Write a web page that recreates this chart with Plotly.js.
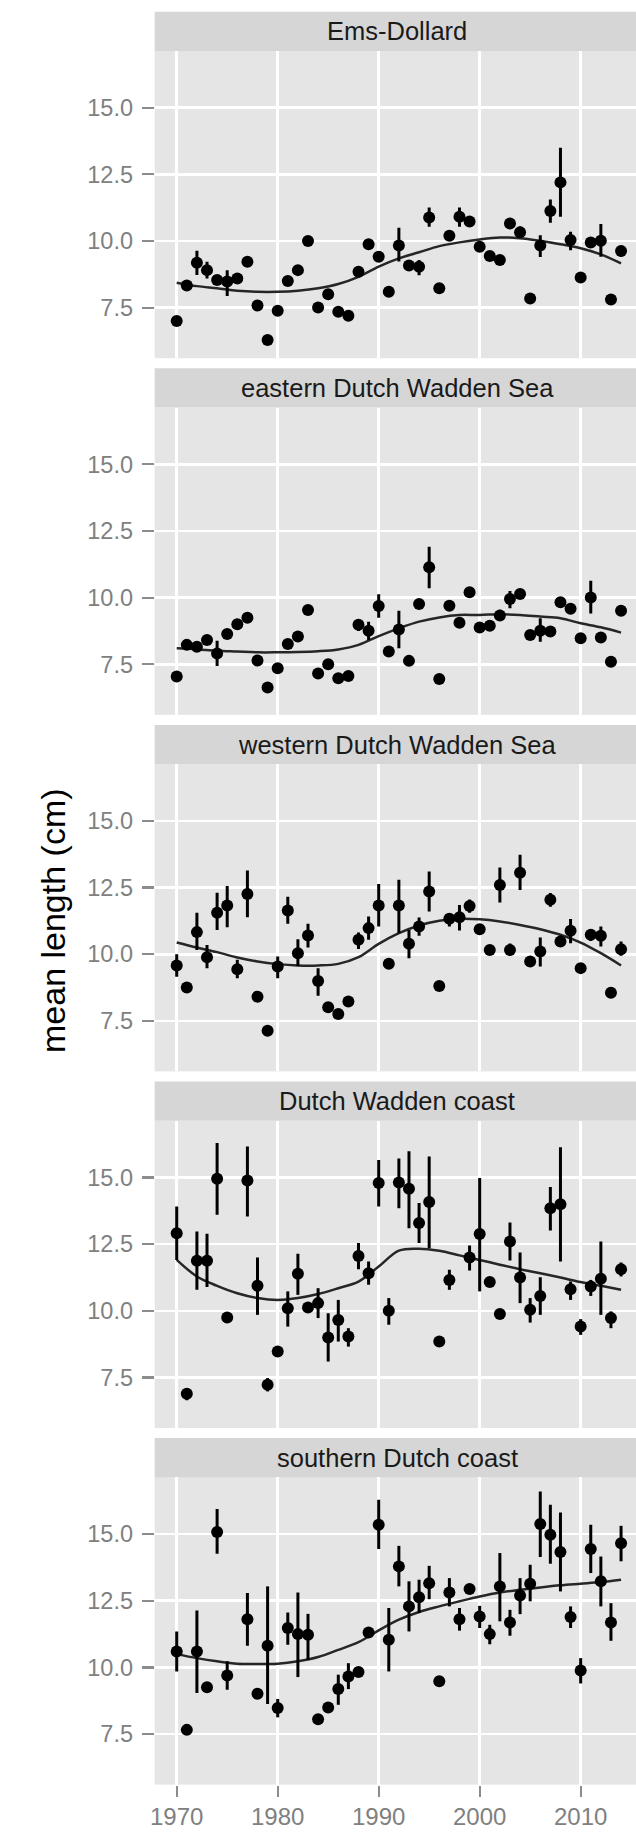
<!DOCTYPE html>
<html>
<head>
<meta charset="utf-8">
<script src="https://cdn.plot.ly/plotly-3.0.1.min.js"></script>
<style>
  html, body { margin: 0; padding: 0; background: #ffffff; }
  #chart { width: 636px; height: 1842px; }
</style>
</head>
<body>
<div id="chart"></div>
<script>
// Mean length (cm) per year with ranges, and a smoothed trend, for five areas.
const regions = [
  "Ems-Dollard",
  "eastern Dutch Wadden Sea",
  "western Dutch Wadden Sea",
  "Dutch Wadden coast",
  "southern Dutch coast"
];

const yearsFull = [1970,1971,1972,1973,1974,1975,1976,1977,1978,1979,
                   1980,1981,1982,1983,1984,1985,1986,1987,1988,1989,
                   1990,1991,1992,1993,1994,1995,1996,1997,1998,1999,
                   2000,2001,2002,2003,2004,2005,2006,2007,2008,2009,
                   2010,2011,2012,2013,2014];

const yearsCoastNorth = [1970,1971,1972,1973,1974,1975,1977,1978,1979,
                         1980,1981,1982,1983,1984,1985,1986,1987,1988,1989,
                         1990,1991,1992,1993,1994,1995,1996,1997,1999,
                         2000,2001,2002,2003,2004,2005,2006,2007,2008,2009,
                         2010,2011,2012,2013,2014];

const yearsCoastSouth = [1970,1971,1972,1973,1974,1975,1977,1978,1979,
                         1980,1981,1982,1983,1984,1985,1986,1987,1988,1989,
                         1990,1991,1992,1993,1994,1995,1996,1997,1998,1999,
                         2000,2001,2002,2003,2004,2005,2006,2007,2008,2009,
                         2010,2011,2012,2013,2014];

// Ems-Dollard
const mean1 = [7.0, 8.33, 9.19, 8.91, 8.54, 8.48, 8.6, 9.22, 7.58, 6.29,
               7.39, 8.5, 8.91, 10.0, 7.51, 8.01, 7.35, 7.2, 8.85, 9.88,
               9.41, 8.1, 9.83, 9.08, 9.04, 10.88, 8.23, 10.2, 10.91, 10.73,
               9.79, 9.44, 9.29, 10.66, 10.33, 7.85, 9.83, 11.13, 12.2, 10.04,
               8.63, 9.95, 10.01, 7.81, 9.63];
const hi1 = [7.15, 8.48, 9.64, 9.22, 8.69, 8.91, 8.75, 9.37, 7.73, 6.44,
             7.54, 8.65, 9.06, 10.15, 7.66, 8.16, 7.5, 7.35, 9.05, 10.05,
             9.6, 8.25, 10.5, 9.23, 9.29, 11.26, 8.4, 10.35, 11.26, 10.88,
             9.94, 9.59, 9.44, 10.85, 10.55, 8.0, 10.22, 11.56, 13.5, 10.35,
             8.78, 10.1, 10.64, 7.96, 9.82];
const lo1 = [6.85, 8.18, 8.73, 8.6, 8.39, 7.94, 8.45, 9.07, 7.43, 6.14,
             7.24, 8.35, 8.76, 9.85, 7.36, 7.86, 7.2, 7.05, 8.65, 9.7,
             9.25, 7.95, 9.23, 8.93, 8.72, 10.54, 8.05, 10.05, 10.54, 10.58,
             9.64, 9.29, 9.14, 10.47, 10.12, 7.7, 9.4, 10.69, 10.91, 9.66,
             8.48, 9.8, 9.41, 7.66, 9.42];

// eastern Dutch Wadden Sea
const mean2 = [7.04, 8.23, 8.16, 8.41, 7.91, 8.64, 9.0, 9.25, 7.64, 6.63,
               7.35, 8.26, 8.54, 9.54, 7.16, 7.5, 6.98, 7.06, 8.98, 8.76,
               9.69, 7.98, 8.81, 7.63, 9.76, 11.14, 6.95, 9.7, 9.06, 10.2,
               8.88, 8.95, 9.33, 9.95, 10.14, 8.6, 8.76, 8.73, 9.83, 9.58,
               8.48, 10.01, 8.51, 7.6, 9.51];
const hi2 = [7.19, 8.38, 8.31, 8.56, 8.38, 8.79, 9.15, 9.4, 7.79, 6.78,
             7.5, 8.45, 8.69, 9.69, 7.31, 7.65, 7.13, 7.21, 9.2, 9.1,
             10.13, 8.13, 9.51, 7.78, 9.91, 11.91, 7.1, 9.85, 9.21, 10.35,
             9.03, 9.1, 9.55, 10.25, 10.32, 8.75, 9.23, 8.88, 9.98, 9.73,
             8.63, 10.63, 8.66, 7.75, 9.66];
const lo2 = [6.89, 8.08, 8.01, 8.26, 7.44, 8.49, 8.85, 9.1, 7.49, 6.48,
             7.2, 8.1, 8.39, 9.39, 7.01, 7.35, 6.83, 6.91, 8.75, 8.41,
             9.25, 7.83, 8.1, 7.48, 9.61, 10.35, 6.8, 9.55, 8.91, 10.05,
             8.73, 8.8, 9.15, 9.6, 9.95, 8.45, 8.35, 8.58, 9.68, 9.43,
             8.33, 9.41, 8.36, 7.45, 9.36];

// western Dutch Wadden Sea
const mean3 = [9.58, 8.75, 10.83, 9.89, 11.56, 11.83, 9.44, 12.26, 8.41, 7.13,
               9.54, 11.64, 10.04, 10.7, 9.0, 8.01, 7.76, 8.23, 10.54, 10.98,
               11.83, 9.64, 11.83, 10.39, 11.04, 12.35, 8.81, 11.33, 11.39, 11.81,
               10.94, 10.16, 12.6, 10.16, 13.06, 9.73, 10.1, 12.04, 10.48, 10.88,
               9.48, 10.73, 10.69, 8.56, 10.19];
const hi3 = [10.0, 8.9, 11.56, 10.35, 12.31, 12.56, 9.79, 13.14, 8.56, 7.28,
             9.92, 12.16, 10.56, 11.14, 9.48, 8.16, 7.91, 8.38, 10.82, 11.42,
             12.63, 9.79, 12.79, 10.91, 11.38, 13.1, 8.96, 11.55, 11.85, 12.05,
             11.09, 10.31, 13.25, 10.4, 13.73, 9.88, 10.63, 12.3, 10.7, 11.32,
             9.63, 10.95, 11.04, 8.71, 10.48];
const lo3 = [9.16, 8.6, 10.16, 9.48, 10.91, 11.01, 9.1, 11.39, 8.26, 6.98,
             9.1, 11.14, 9.56, 10.25, 8.44, 7.86, 7.61, 8.08, 10.2, 10.54,
             11.04, 9.49, 10.79, 9.85, 10.69, 11.6, 8.66, 11.04, 10.89, 11.56,
             10.79, 10.01, 11.94, 9.95, 12.41, 9.58, 9.54, 11.78, 10.3, 10.41,
             9.33, 10.5, 10.29, 8.41, 9.94];

// Dutch Wadden coast
const mean4 = [12.91, 6.89, 11.88, 11.88, 14.95, 9.75,
               14.89, 10.94, 7.23, 8.48, 10.1, 11.39, 10.13, 10.29, 9.0, 9.66, 9.04, 12.06, 11.41,
               14.79, 10.0, 14.81, 14.58, 13.29, 14.08, 8.85, 11.16,
               12.0, 12.88, 11.08, 9.88, 12.6, 11.25, 10.04, 10.56, 13.85, 14.0, 10.81,
               9.41, 10.91, 11.2, 9.73, 11.56];
const hi4 = [13.91, 7.1, 12.98, 12.89, 16.29, 9.9,
             16.16, 12.0, 7.48, 8.63, 10.73, 12.14, 10.28, 10.85, 9.91, 10.41, 9.35, 12.54, 11.85,
             15.66, 10.48, 15.71, 15.98, 14.04, 15.79, 9.0, 11.54,
             12.45, 14.98, 11.23, 10.03, 13.31, 12.19, 10.48, 11.26, 14.64, 16.13, 11.1,
             9.69, 11.16, 12.6, 9.98, 11.81];
const lo4 = [11.91, 6.65, 10.79, 10.89, 13.6, 9.6,
             13.54, 9.85, 6.98, 8.33, 9.41, 10.6, 9.98, 9.73, 8.1, 8.85, 8.66, 11.56, 10.98,
             13.91, 9.48, 13.85, 13.1, 12.54, 12.35, 8.7, 10.79,
             11.51, 10.73, 10.93, 9.73, 11.89, 10.29, 9.56, 9.85, 13.01, 11.85, 10.41,
             9.1, 10.56, 9.85, 9.35, 11.29];

// southern Dutch coast
const mean5 = [10.6, 7.66, 10.6, 9.26, 15.08, 9.7,
               11.81, 9.01, 10.81, 8.48, 11.48, 11.25, 11.23, 8.06, 8.5, 9.19, 9.66, 9.83, 11.31,
               15.35, 11.04, 13.79, 12.29, 12.63, 13.16, 9.48, 12.81, 11.81, 12.94,
               11.91, 11.25, 13.04, 11.69, 12.7, 13.14, 15.38, 14.98, 14.33, 11.89,
               9.89, 14.44, 13.23, 11.69, 14.66];
const hi5 = [11.35, 7.81, 12.14, 9.41, 15.94, 10.23,
             12.79, 9.16, 13.04, 8.82, 12.06, 12.81, 12.01, 8.21, 8.65, 9.73, 10.16, 9.98, 11.46,
             16.29, 12.23, 14.56, 13.23, 13.29, 13.81, 9.63, 13.35, 12.23, 13.09,
             12.31, 11.6, 14.29, 12.16, 13.35, 13.85, 16.6, 16.1, 15.81, 12.29,
             10.35, 15.35, 14.16, 12.41, 15.31];
const lo5 = [9.85, 7.51, 9.04, 9.11, 14.26, 9.16,
             10.81, 8.86, 8.63, 8.13, 10.85, 9.64, 10.29, 7.91, 8.35, 8.6, 9.19, 9.68, 11.16,
             14.44, 9.85, 13.04, 11.35, 12.04, 12.56, 9.33, 12.29, 11.38, 12.79,
             11.48, 10.87, 11.73, 11.19, 12.0, 12.48, 14.14, 13.89, 12.85, 11.48,
             9.4, 13.54, 12.29, 11.0, 13.98];

// Smoothed trend, every second year
const trendYears = [1970,1972,1974,1976,1978,1980,1982,1984,1986,1988,1990,
                    1992,1994,1996,1998,2000,2002,2004,2006,2008,2010,2012,2014];
const trend1 = [8.44, 8.31, 8.23, 8.14, 8.1, 8.1, 8.14, 8.23, 8.39, 8.66, 9.04,
                9.35, 9.58, 9.81, 9.95, 10.06, 10.13, 10.11, 10.01, 9.88, 9.73, 9.5, 9.16];
const trend2 = [8.1, 8.06, 8.01, 7.98, 7.95, 7.95, 7.96, 7.99, 8.06, 8.23, 8.56,
                8.85, 9.1, 9.26, 9.35, 9.35, 9.38, 9.35, 9.29, 9.23, 9.04, 8.89, 8.69];
const trend3 = [10.44, 10.25, 10.08, 9.88, 9.73, 9.63, 9.58, 9.58, 9.64, 9.89, 10.39,
                10.79, 11.08, 11.26, 11.33, 11.31, 11.23, 11.1, 10.94, 10.73, 10.44, 10.04, 9.58];
const trend4 = [11.91, 11.29, 10.94, 10.66, 10.48, 10.41, 10.48, 10.63, 10.85, 11.1, 11.66,
                12.26, 12.33, 12.25, 12.08, 11.91, 11.73, 11.56, 11.41, 11.25, 11.08, 10.94, 10.79];
const trend5 = [10.5, 10.35, 10.23, 10.14, 10.13, 10.14, 10.23, 10.39, 10.66, 10.95, 11.39,
                11.79, 12.08, 12.29, 12.48, 12.66, 12.81, 12.91, 13.0, 13.08, 13.14, 13.2, 13.29];

const xTicks = [1970, 1980, 1990, 2000, 2010];
const yTicks = [7.5, 10.0, 12.5, 15.0];
const yTickText = ["7.5", "10.0", "12.5", "15.0"];

const panels = [
  {years: yearsFull,       mean: mean1, hi: hi1, lo: lo1, trend: trend1},
  {years: yearsFull,       mean: mean2, hi: hi2, lo: lo2, trend: trend2},
  {years: yearsFull,       mean: mean3, hi: hi3, lo: lo3, trend: trend3},
  {years: yearsCoastNorth, mean: mean4, hi: hi4, lo: lo4, trend: trend4},
  {years: yearsCoastSouth, mean: mean5, hi: hi5, lo: lo5, trend: trend5}
];

// page geometry (pixels)
const W = 636, H = 1842;
const plotLeft = 154.7;
const firstTop = 51, step = 356.6, plotH = 307.2, stripH = 39.3;
const fy = px => 1 - px / H;
const FONT = "Liberation Sans, Arial, Helvetica, sans-serif";

const data = [];
const layout = {
  width: W, height: H,
  margin: {l: 0, r: 0, t: 0, b: 0},
  paper_bgcolor: "#ffffff",
  plot_bgcolor: "#e5e5e5",
  showlegend: false,
  font: {family: FONT},
  shapes: [],
  annotations: []
};

panels.forEach((p, i) => {
  const n = i + 1;
  const xa = "x" + n, ya = "y" + n;
  const top = firstTop + step * i;
  const bottom = top + plotH;

  // trend line
  data.push({
    type: "scatter", mode: "lines",
    x: trendYears, y: p.trend,
    xaxis: xa, yaxis: ya,
    line: {color: "#262626", width: 2.5, shape: "spline", smoothing: 1},
    hoverinfo: "skip"
  });

  // yearly means with ranges
  data.push({
    type: "scatter", mode: "markers",
    x: p.years, y: p.mean,
    xaxis: xa, yaxis: ya,
    marker: {color: "#000000", size: 12},
    error_y: {
      type: "data", symmetric: false,
      array: p.hi.map((v, k) => v - p.mean[k]),
      arrayminus: p.lo.map((v, k) => p.mean[k] - v),
      color: "#000000", thickness: 3, width: 0
    }
  });

  const last = (i === panels.length - 1);
  layout["xaxis" + n] = {
    domain: [plotLeft / W, 1],
    anchor: ya,
    range: [1967.82, 2015.48],
    tickvals: xTicks,
    ticktext: xTicks.map(String),
    showticklabels: last,
    ticks: last ? "outside" : "",
    ticklen: 11, tickwidth: 2.2, tickcolor: "#8c8c8c",
    tickfont: {size: 24, color: "#808080", family: FONT},
    ticklabelstandoff: 0,
    showgrid: true, gridcolor: "#ffffff", gridwidth: 2.6,
    zeroline: false, showline: false, fixedrange: true
  };
  layout["yaxis" + n] = {
    domain: [fy(bottom), fy(top)],
    anchor: xa,
    range: [5.608, 17.126],
    tickvals: yTicks,
    ticktext: yTickText,
    ticks: "outside",
    ticklen: 12, tickwidth: 2.2, tickcolor: "#8c8c8c",
    tickfont: {size: 23.5, color: "#808080", family: FONT},
    ticklabelstandoff: 4,
    showgrid: true, gridcolor: "#ffffff", gridwidth: 2.6,
    zeroline: false, showline: false, fixedrange: true
  };

  // facet strip
  layout.shapes.push({
    type: "rect", xref: "paper", yref: "paper",
    x0: plotLeft / W, x1: 1,
    y0: fy(top), y1: fy(top - stripH),
    fillcolor: "#d6d6d6", line: {width: 0}, layer: "below"
  });
  layout.annotations.push({
    xref: "paper", yref: "paper",
    x: 397 / W, y: fy(top - stripH / 2),
    xanchor: "center", yanchor: "middle",
    text: regions[i], showarrow: false,
    font: {size: 25.5, color: "#1a1a1a", family: FONT}
  });
});

// shared y-axis title
layout.annotations.push({
  xref: "paper", yref: "paper",
  x: 53 / W, y: fy(921),
  xanchor: "center", yanchor: "middle",
  text: "mean length (cm)", textangle: -90, showarrow: false,
  font: {size: 34, color: "#000000", family: FONT}
});

Plotly.newPlot("chart", data, layout, {staticPlot: true, displayModeBar: false});
</script>
</body>
</html>
